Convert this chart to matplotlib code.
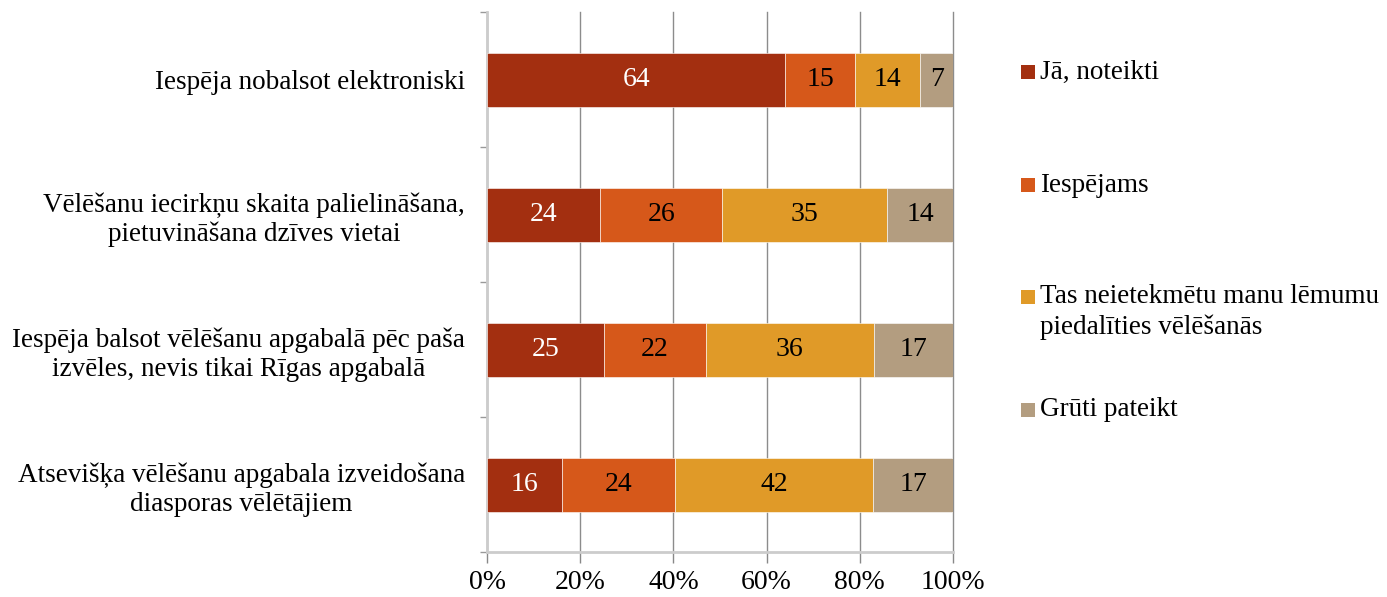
import numpy as np
import matplotlib
matplotlib.use("Agg")
import matplotlib.pyplot as plt
from matplotlib.patches import Rectangle

plt.rcParams['font.family'] = ['Liberation Serif', 'DejaVu Serif']

categories = [
    "Iespēja nobalsot elektroniski",
    "Vēlēšanu iecirkņu skaita palielināšana,\npietuvināšana dzīves vietai",
    "Iespēja balsot vēlēšanu apgabalā pēc paša\nizvēles, nevis tikai Rīgas apgabalā",
    "Atsevišķa vēlēšanu apgabala izveidošana\ndiasporas vēlētājiem",
]
series_names = [
    "Jā, noteikti",
    "Iespējams",
    "Tas neietekmētu manu lēmumu\npiedalīties vēlēšanās",
    "Grūti pateikt",
]
ja_noteikti = [64, 24, 25, 16]
iespejams = [15, 26, 22, 24]
neietekmetu = [14, 35, 36, 42]
gruti = [7, 14, 17, 17]
colors = ["#A32F10", "#D6581A", "#E09A28", "#B39D80"]
text_colors = ["white", "black", "black", "black"]

data = np.array([ja_noteikti, iespejams, neietekmetu, gruti], dtype=float)
share = data / data.sum(axis=0)

fig = plt.figure(figsize=(13.87, 5.97), dpi=100)
ax = fig.add_axes([487 / 1387, 1 - 552 / 597, 466 / 1387, 540 / 597])

y = np.arange(len(categories))
left = np.zeros(len(categories))
for i in range(len(series_names)):
    ax.barh(y, share[i], left=left, height=0.4, color=colors[i],
            edgecolor="white", linewidth=0.4, zorder=3)
    for j in range(len(categories)):
        ax.text(left[j] + share[i][j] / 2, y[j], f"{int(data[i][j])}",
                ha="center", va="center", fontsize=20, color=text_colors[i], zorder=4)
    left += share[i]

ax.set_xlim(0, 1)
ax.set_ylim(len(categories) - 0.5, -0.5)
ax.set_xticks(np.arange(0, 1.01, 0.2))
ax.set_xticklabels([f"{int(v * 100)}%" for v in np.arange(0, 1.01, 0.2)], fontsize=20)
ax.set_yticks(y)
ax.set_yticklabels(categories, fontsize=19.5, multialignment="center")
ax.set_yticks(np.arange(-0.5, len(categories), 1), minor=True)
ax.tick_params(axis="y", which="major", length=0, pad=16)
ax.tick_params(axis="y", which="minor", length=5, color="#999999", width=1)
ax.tick_params(axis="x", length=8, color="#888888", width=1, pad=5)
ax.grid(axis="x", color="#8c8c8c", linewidth=1, zorder=0)
for gl in ax.get_xgridlines():
    gl.set_clip_on(False)
for s in ["top", "right"]:
    ax.spines[s].set_visible(False)
for s in ["left", "bottom"]:
    ax.spines[s].set_color("#cccccc")
    ax.spines[s].set_linewidth(2)

# legend, placed by hand like the original
legend_y = [72, 185, 297, 410]
line_h = 30
for name, c, ly in zip(series_names, colors, legend_y):
    n = name.count("\n") + 1
    fig.patches.append(Rectangle((1021 / 1387, 1 - (ly + 7) / 597), 14 / 1387, 14 / 597,
                                 transform=fig.transFigure, facecolor=c, edgecolor="none"))
    fig.text(1040 / 1387, 1 - (ly + (n - 1) * line_h / 2) / 597, name, fontsize=19.5,
             ha="left", va="center", linespacing=1.3)

fig.savefig("out.png", dpi=100)
